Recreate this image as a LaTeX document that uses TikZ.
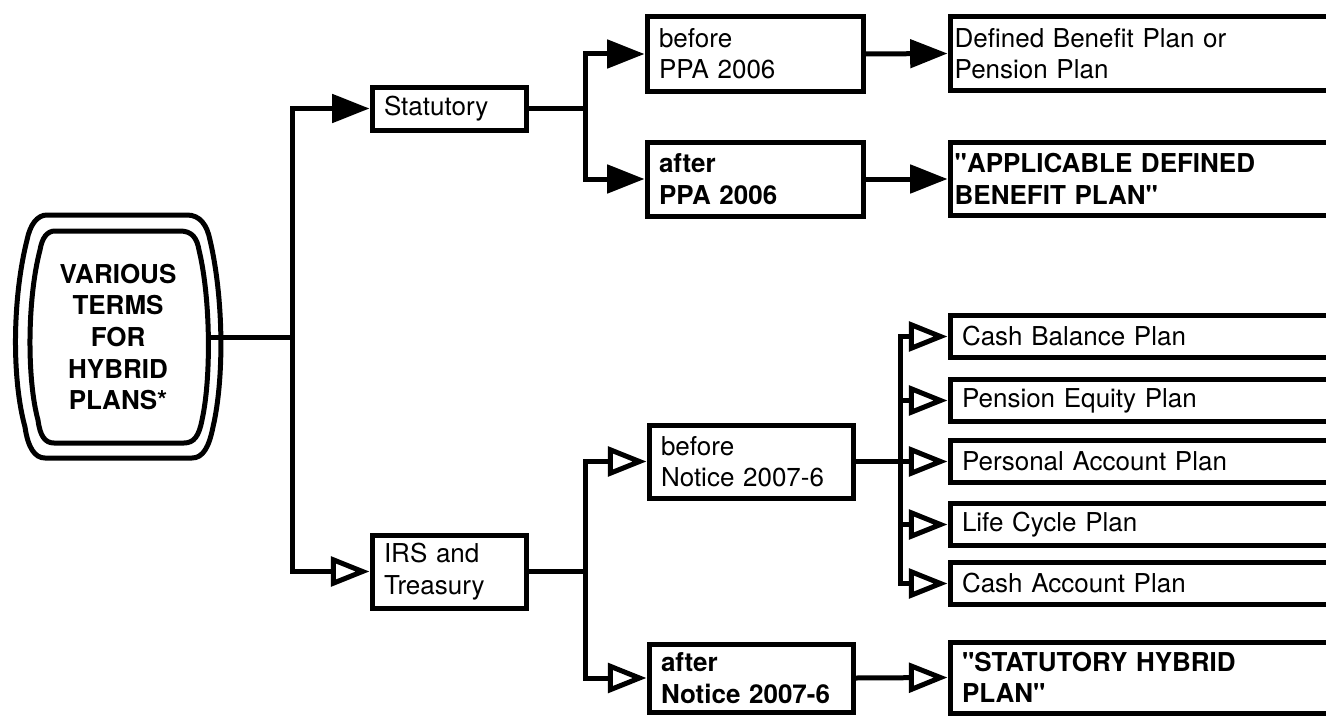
\documentclass[tikz,border=0pt]{standalone}
\usepackage{fontspec}
\setmainfont{TeX Gyre Heros}[Ligatures=TeXOff]
\usetikzlibrary{arrows.meta}
\begin{document}
\begin{tikzpicture}[x=0.75pt,y=-0.75pt,
  lw/.style={line width=3.75pt},
  txt/.style={font=\fontsize{19.5}{23.5}\selectfont},
  box/.style={draw,lw,txt,rectangle,align=left,inner xsep=9pt,inner ysep=0pt,anchor=center},
  conn/.style={lw},
  arrF/.style={lw,-{Triangle[length=28pt,width=21pt]}},
  arrO/.style={lw,-{Triangle[open,length=29pt,width=22pt,fill=white]}}
]
\path[use as bounding box] (0,0) rectangle (1326,717);
\clip (0,0) rectangle (1326,717);

% root: double barrel outline around the title
\draw[lw] (47,215) -- (187,215) .. controls (200,215) and (207,225) .. (210,240)
  .. controls (224,300) and (224,380) .. (213,427)
  .. controls (209,447) and (203,458) .. (192,458) -- (45,458)
  .. controls (35,458) and (28,448) .. (25,427)
  .. controls (12,380) and (12,300) .. (27,240)
  .. controls (30,225) and (37,215) .. (47,215) -- cycle;
\draw[lw] (55,231) -- (180,231) .. controls (192,231) and (197,238) .. (199,250)
  .. controls (211,300) and (211,380) .. (202,420)
  .. controls (199,436) and (194,443) .. (184,443) -- (54,443)
  .. controls (45,443) and (40,436) .. (38,420)
  .. controls (27,380) and (27,300) .. (40,250)
  .. controls (42,238) and (47,231) .. (55,231) -- cycle;
\node[font=\bfseries\fontsize{19.5}{23.8}\selectfont,align=center] (hub) at (118,337)
  {VARIOUS\\TERMS\\FOR\\HYBRID\\PLANS*};
\coordinate (hubE) at (208,337);

% second level
\node[box,minimum width=115.5pt,minimum height=32.25pt,text width=97.5pt] (stat) at (449,108.5) {Statutory};
\node[box,minimum width=115.5pt,minimum height=54.75pt,text width=97.5pt] (irs) at (449,571.5) {IRS and\\Treasury};

% third level
\node[box,minimum width=162pt,minimum height=55.5pt,text width=144pt] (bppa) at (755,54) {before\\PPA 2006};
\node[box,minimum width=162pt,minimum height=55.5pt,text width=144pt,font=\bfseries\fontsize{19.5}{23.5}\selectfont] (appa) at (755,179) {after\\PPA 2006};
\node[box,minimum width=153pt,minimum height=54.75pt,text width=135pt] (bnot) at (751,461.5) {before\\Notice 2007-6};
\node[box,minimum width=153pt,minimum height=51pt,text width=135pt,font=\bfseries\fontsize{19.5}{23.5}\selectfont] (anot) at (751,678) {after\\Notice 2007-6};

% terms
\node[box,inner xsep=3.5pt,minimum width=354pt,minimum height=54.75pt,text width=347pt] (dbp) at (1186,53.5) {Defined Benefit Plan or\\Pension Plan};
\node[box,inner xsep=3.5pt,minimum width=354pt,minimum height=54.75pt,text width=347pt,font=\bfseries\fontsize{19.5}{23.5}\selectfont] (adbp) at (1186,179) {"APPLICABLE DEFINED\\BENEFIT PLAN"};
\node[box,minimum width=354pt,minimum height=31.5pt,text width=336pt] (cbp) at (1186,336.5) {Cash Balance Plan};
\node[box,minimum width=354pt,minimum height=31.5pt,text width=336pt] (pep) at (1186,400.5) {Pension Equity Plan};
\node[box,minimum width=354pt,minimum height=31.5pt,text width=336pt] (pap) at (1186,461.5) {Personal Account Plan};
\node[box,minimum width=354pt,minimum height=31.5pt,text width=336pt] (lcp) at (1186,524.5) {Life Cycle Plan};
\node[box,minimum width=354pt,minimum height=31.5pt,text width=336pt] (cap) at (1186,583.5) {Cash Account Plan};
\node[box,minimum width=354pt,minimum height=53.25pt,text width=336pt,font=\bfseries\fontsize{19.5}{23.5}\selectfont] (shp) at (1186,677.5) {"STATUTORY HYBRID\\PLAN"};

% junction points
\coordinate (j0) at (292,337);
\coordinate (j1) at (585,108.5);
\coordinate (j2) at (585,571.5);
\coordinate (j3) at (900,461.5);

% connectors
\draw[conn] (hubE) -- (j0);
\draw[arrF] (j0) |- (stat.west);
\draw[arrO] (j0) |- (irs.west);

\draw[conn] (stat.east) -- (j1);
\draw[arrF] (j1) |- (bppa.west);
\draw[arrF] (j1) |- (appa.west);
\draw[arrF] (bppa.east) -- (dbp.west);
\draw[arrF] (appa.east) -- (adbp.west);

\draw[conn] (irs.east) -- (j2);
\draw[arrO] (j2) |- (bnot.west);
\draw[arrO] (j2) |- (anot.west);
\draw[arrO] (anot.east) -- (shp.west);

\draw[conn] (bnot.east) -- (j3);
\draw[arrO] (j3) |- (cbp.west);
\draw[arrO] (j3) |- (pep.west);
\draw[arrO] (j3) -- (pap.west);
\draw[arrO] (j3) |- (lcp.west);
\draw[arrO] (j3) |- (cap.west);
\end{tikzpicture}
\end{document}
